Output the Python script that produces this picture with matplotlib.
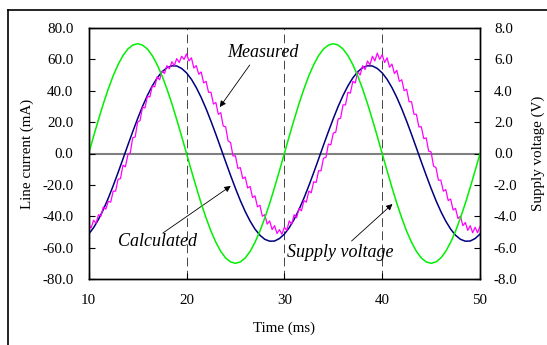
import numpy as np
import matplotlib
matplotlib.use("Agg")
import matplotlib.pyplot as plt
from matplotlib.lines import Line2D

plt.rcParams['font.family'] = ['Liberation Serif', 'DejaVu Serif']

# time axes (ms)
t_smooth = np.linspace(10, 50, 81)     # 0.5 ms steps
t_meas = np.linspace(10, 50, 161)      # 0.25 ms steps

# supply voltage (V), right axis
supply_v = [0, 1.1, 2.16, 3.18, 4.11, 4.95, 5.66, 6.24, 6.66, 6.91,
            7.0, 6.91, 6.66, 6.24, 5.66, 4.95, 4.11, 3.18, 2.16, 1.1,
            0, -1.1, -2.16, -3.18, -4.11, -4.95, -5.66, -6.24, -6.66, -6.91,
            -7.0, -6.91, -6.66, -6.24, -5.66, -4.95, -4.11, -3.18, -2.16, -1.1,
            0, 1.1, 2.16, 3.18, 4.11, 4.95, 5.66, 6.24, 6.66, 6.91,
            7.0, 6.91, 6.66, 6.24, 5.66, 4.95, 4.11, 3.18, 2.16, 1.1,
            0, -1.1, -2.16, -3.18, -4.11, -4.95, -5.66, -6.24, -6.66, -6.91,
            -7.0, -6.91, -6.66, -6.24, -5.66, -4.95, -4.11, -3.18, -2.16, -1.1,
            0]

# calculated line current (mA)
calc_ma = [-51.4, -47.3, -42.0, -35.7, -28.5, -20.6, -12.2, -3.5, 5.3, 13.9,
           22.2, 30.0, 37.0, 43.1, 48.2, 52.1, 54.7, 55.9, 55.8, 54.2,
           51.4, 47.3, 42.0, 35.7, 28.5, 20.6, 12.2, 3.5, -5.3, -13.9,
           -22.2, -30.0, -37.0, -43.1, -48.2, -52.1, -54.7, -55.9, -55.8, -54.2,
           -51.4, -47.3, -42.0, -35.7, -28.5, -20.6, -12.2, -3.5, 5.3, 13.9,
           22.2, 30.0, 37.0, 43.1, 48.2, 52.1, 54.7, 55.9, 55.8, 54.2,
           51.4, 47.3, 42.0, 35.7, 28.5, 20.6, 12.2, 3.5, -5.3, -13.9,
           -22.2, -30.0, -37.0, -43.1, -48.2, -52.1, -54.7, -55.9, -55.8, -54.2,
           -51.4]

# measured line current (mA)
meas_ma = [-45, -47.5, -42.5, -44.5, -39, -40, -34, -35.5, -30.5, -31,
           -24, -24, -16.5, -16, -7.5, -8.5, -1, 0.5, 10, 10.5,
           20, 21, 29.5, 29, 36.5, 36, 43, 42.5, 49, 47,
           52.5, 51, 56, 54, 58.5, 56, 60.5, 58, 62, 60,
           63.5, 59, 61, 54.5, 56, 50.5, 52, 45, 46, 39,
           39, 31.5, 32.5, 25, 26, 17.5, 17, 8, 7, -1.5,
           -1.5, -9.5, -9, -16, -15, -22, -21, -28, -27, -34,
           -33, -40, -39, -45, -43, -48.5, -46, -51, -48.5, -51.5,
           -47, -49, -43, -45, -39, -41, -35, -36.5, -30, -31,
           -24, -25, -18, -18.5, -11, -11, -3, -2.5, 6, 5.5,
           13, 13.5, 22, 22.5, 31, 31, 39, 38.5, 46, 45,
           52, 50, 56, 53.5, 59, 56.5, 62, 59, 64, 60,
           63, 58, 61, 55, 57, 51, 53, 46, 47, 40,
           41, 33, 33, 25, 25, 17, 17, 9.5, 10, 1.5,
           1, -8, -9, -17, -17, -24, -23, -30, -29, -36,
           -35, -41.5, -40, -46, -44, -49, -46, -50.5, -47, -50.5,
           -46.5]

x_ticks = [10, 20, 30, 40, 50]
left_ticks = [-80, -60, -40, -20, 0, 20, 40, 60, 80]
right_ticks = [-8, -6, -4, -2, 0, 2, 4, 6, 8]
guide_times = [20, 30, 40]

fig = plt.figure(figsize=(5.47, 3.45), dpi=100)
W, H = 547.0, 345.0
ax = fig.add_axes([88.7 / W, 1 - 279 / H, (480 - 88.7) / W, (279 - 28) / H])

# outer frame (cut off at right / bottom like the original)
fig.add_artist(Line2D([7.5 / W, 1.0], [1 - 9.5 / H, 1 - 9.5 / H], color='black', lw=1.2))
fig.add_artist(Line2D([7.5 / W, 7.5 / W], [0.0, 1 - 9.5 / H], color='black', lw=1.2))

ax.axhline(0, color='#808080', lw=1.5, zorder=1)
for g in guide_times:
    ax.axvline(g, color='#444444', lw=0.7, dashes=(9, 4.5), zorder=1)

ax.plot(t_smooth, calc_ma, color='#000080', lw=1.1, zorder=3)
ax.plot(t_meas, meas_ma, color='#ff00ff', lw=0.9, zorder=4)

ax.set_xlim(10, 50)
ax.set_ylim(-80, 80)
ax.set_xticks(x_ticks)
ax.set_yticks(left_ticks)
ax.set_yticklabels(['%.1f' % v for v in left_ticks])
ax.tick_params(direction='in', length=4, width=0.8, labelsize=10.8)
ax.tick_params(axis='y', pad=11)
ax.tick_params(axis='x', pad=11)
ax.set_xlabel('Time (ms)', fontsize=10.8, labelpad=10)
ax.set_ylabel('Line current (mA)', fontsize=10.8, labelpad=6)

ax2 = ax.twinx()
ax2.plot(t_smooth, supply_v, color='#00f000', lw=1.1, zorder=2)
ax2.set_ylim(-8, 8)
ax2.set_yticks(right_ticks)
ax2.set_yticklabels(['%.1f' % v for v in right_ticks])
ax2.tick_params(direction='in', length=4, width=0.8, labelsize=10.8, pad=10)
ax2.set_ylabel('Supply voltage (V)', fontsize=10.8, labelpad=10)

for a in (ax, ax2):
    for s in a.spines.values():
        s.set_linewidth(1.0)

arrow = dict(arrowstyle='-|>', color='black', lw=0.6, mutation_scale=9,
             shrinkA=0, shrinkB=0)
ax.text(27.84, 64.7, 'Measured', style='italic', fontsize=13, ha='center', va='center')
ax.annotate('', xy=(23.4, 29.6), xytext=(26.46, 56.4), arrowprops=arrow)
ax.text(17.02, -55.8, 'Calculated', style='italic', fontsize=13, ha='center', va='center')
ax.annotate('', xy=(24.52, -20.7), xytext=(17.58, -50.7), arrowprops=arrow)
ax.text(35.76, -63.4, 'Supply voltage', style='italic', fontsize=13, ha='center', va='center')
ax.annotate('', xy=(41.05, -32.2), xytext=(36.87, -55.8), arrowprops=arrow)

fig.savefig('out.png', dpi=100)
